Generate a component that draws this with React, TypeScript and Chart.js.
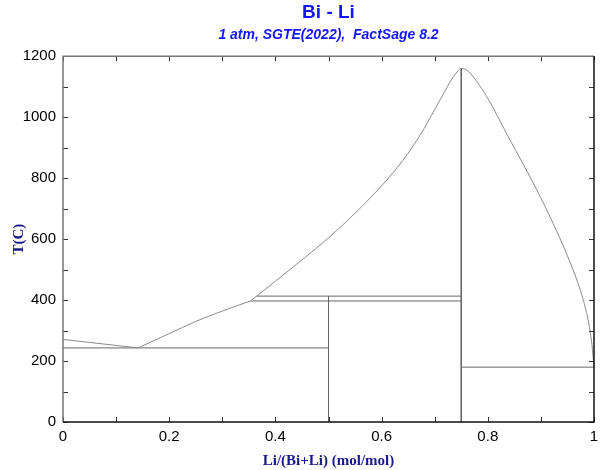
import React, { useEffect, useRef } from 'react';
import { Chart, registerables } from 'chart.js';

Chart.register(...registerables);

// ---- Data (mole fraction Li, temperature in °C) ----
const liqBiSideX = [0, 0.1415];
const liqBiSideT = [271, 243];

const liqBiLiX = [0.1415, 0.2, 0.25, 0.3, 0.353];
const liqBiLiT = [243, 290, 330, 364, 397];

const liqLi3BiLeftX = [0.353, 0.4, 0.45, 0.5, 0.55, 0.6, 0.64, 0.674, 0.7, 0.72, 0.735, 0.745, 0.75];
const liqLi3BiLeftT = [397, 462, 532, 604, 685, 775, 858, 945, 1025, 1088, 1133, 1154, 1160];

const liqLi3BiRightX = [0.755, 0.762, 0.775, 0.8, 0.837, 0.87, 0.9, 0.93, 0.95, 0.97, 0.979, 0.99, 0.996, 1];
const liqLi3BiRightT = [1159, 1153, 1127, 1062, 941, 835, 735, 625, 545, 455, 405, 325, 255, 181];

const eutecticX = [0, 0.5];
const eutecticT = [243, 243];

const peritecticUpperX = [0.365, 0.75];
const peritecticUpperT = [413, 413];

const peritecticLowerX = [0.353, 0.75];
const peritecticLowerT = [397, 397];

const biLiLineX = [0.5, 0.5];
const biLiLineT = [413, 0];

const li3BiLineX = [0.75, 0.75];
const li3BiLineT = [1160, 0];

const liSideX = [0.75, 1];
const liSideT = [180, 180];

const xTickMarks = [0, 0.1, 0.2, 0.3, 0.4, 0.5, 0.6, 0.7, 0.8, 0.9, 1];
const yTickMarks = [0, 100, 200, 300, 400, 500, 600, 700, 800, 900, 1000, 1100, 1200];

const titleText = 'Bi - Li';
const subtitleText = '1 atm, SGTE(2022),  FactSage 8.2';
const xTitle = 'Li/(Bi+Li) (mol/mol)';
const yTitle = 'T(C)';

const pts = (xs: number[], ts: number[]) => xs.map((v, i) => ({ x: v, y: ts[i] }));

const framePlugin = {
  id: 'phaseFrame',
  afterDatasetsDraw(chart: any) {
    const { ctx, chartArea, scales } = chart;
    const { left, right, top, bottom } = chartArea;
    const xs = scales.x;
    const ys = scales.y;
    ctx.save();
    ctx.lineWidth = 1;
    ctx.strokeStyle = '#333';
    const tl = 5;
    ctx.beginPath();
    for (const v of xTickMarks) {
      const px = Math.round(xs.getPixelForValue(v)) + 0.5;
      ctx.moveTo(px, bottom);
      ctx.lineTo(px, bottom - tl);
      ctx.moveTo(px, top);
      ctx.lineTo(px, top + tl);
    }
    for (const v of yTickMarks) {
      const py = Math.round(ys.getPixelForValue(v)) + 0.5;
      ctx.moveTo(left, py);
      ctx.lineTo(left + tl, py);
      ctx.moveTo(right, py);
      ctx.lineTo(right - tl, py);
    }
    ctx.stroke();
    // frame
    ctx.lineWidth = 1.5;
    ctx.strokeStyle = '#777';
    ctx.beginPath();
    ctx.moveTo(left, bottom);
    ctx.lineTo(left, top);
    ctx.lineTo(right, top);
    ctx.stroke();
    ctx.strokeStyle = '#111';
    ctx.beginPath();
    ctx.moveTo(left, bottom);
    ctx.lineTo(right, bottom);
    ctx.lineTo(right, top);
    ctx.stroke();
    ctx.restore();
  },
};

export default function App() {
  const ref = useRef<HTMLCanvasElement | null>(null);

  useEffect(() => {
    if (!ref.current) return;
    const curveStyle = {
      borderColor: '#8a8a8a',
      borderWidth: 1,
      pointRadius: 0,
      showLine: true,
      fill: false,
    };
    const lineStyle = {
      borderColor: '#666',
      borderWidth: 1,
      pointRadius: 0,
      showLine: true,
      fill: false,
      tension: 0,
    };
    const chart = new Chart(ref.current, {
      type: 'scatter',
      data: {
        datasets: [
          { ...curveStyle, data: pts(liqBiSideX, liqBiSideT) },
          { ...curveStyle, cubicInterpolationMode: 'monotone', data: pts(liqBiLiX, liqBiLiT) },
          {
            ...curveStyle,
            cubicInterpolationMode: 'monotone',
            data: pts(liqLi3BiLeftX.concat(liqLi3BiRightX), liqLi3BiLeftT.concat(liqLi3BiRightT)),
          },
          { ...lineStyle, data: pts(eutecticX, eutecticT) },
          { ...lineStyle, data: pts(peritecticUpperX, peritecticUpperT) },
          { ...lineStyle, data: pts(peritecticLowerX, peritecticLowerT) },
          { ...lineStyle, data: pts(biLiLineX, biLiLineT) },
          { ...lineStyle, data: pts(li3BiLineX, li3BiLineT) },
          { ...lineStyle, data: pts(liSideX, liSideT) },
        ] as any,
      },
      options: {
        animation: false,
        responsive: false,
        layout: { padding: { top: 0, right: 6, bottom: 0, left: 0 } },
        plugins: {
          legend: { display: false },
          tooltip: { enabled: false },
          title: {
            display: true,
            text: titleText,
            color: '#1414ff',
            fullSize: false,
            font: { family: '"Liberation Sans", Arial, sans-serif', size: 19, weight: 'bold', lineHeight: 1.16 },
            padding: { top: 2, bottom: 0 },
          },
          subtitle: {
            display: true,
            text: subtitleText,
            color: '#1414ff',
            fullSize: false,
            font: { family: '"Liberation Sans", Arial, sans-serif', size: 14, weight: 'bold', style: 'italic', lineHeight: 1.2 },
            padding: { top: 2.4, bottom: 13 },
          },
        },
        scales: {
          x: {
            type: 'linear',
            min: 0,
            max: 1,
            ticks: {
              stepSize: 0.2,
              color: '#000',
              padding: 6,
              maxRotation: 0,
              font: { family: '"Liberation Sans", Arial, sans-serif', size: 15 },
              callback: (v: any) => String(Math.round(Number(v) * 10) / 10),
            },
            grid: { display: false, drawTicks: false },
            border: { display: false },
            title: {
              display: true,
              text: xTitle,
              color: '#1a1a8c',
              font: { family: '"Liberation Serif", "Times New Roman", serif', size: 15, weight: 'bold', lineHeight: 1.2 },
              padding: { top: 0, bottom: 0 },
            },
            afterFit: (s: any) => {
              s.height = 48;
              s.paddingLeft = 0;
              s.paddingRight = 0;
            },
          },
          y: {
            type: 'linear',
            min: 0,
            max: 1200,
            ticks: {
              stepSize: 200,
              color: '#000',
              padding: 7,
              font: { family: '"Liberation Sans", Arial, sans-serif', size: 15 },
              callback: (v: any) => String(Math.round(Number(v))),
            },
            grid: { display: false, drawTicks: false },
            border: { display: false },
            title: {
              display: true,
              text: yTitle,
              color: '#1a1a8c',
              font: { family: '"Liberation Serif", "Times New Roman", serif', size: 15, weight: 'bold', lineHeight: 1.2 },
              padding: { top: 10.5, bottom: 10.5 },
            },
            afterFit: (s: any) => {
              s.width = 63;
              s.paddingTop = 0;
              s.paddingBottom = 0;
            },
          },
        },
      } as any,
      plugins: [framePlugin],
    });
    return () => chart.destroy();
  }, []);

  return (
    <div style={{ position: 'absolute', left: 0, top: 0, width: 600, height: 470, background: '#fff' }}>
      <canvas ref={ref} width={600} height={470} style={{ display: 'block', width: 600, height: 470 }} />
    </div>
  );
}
